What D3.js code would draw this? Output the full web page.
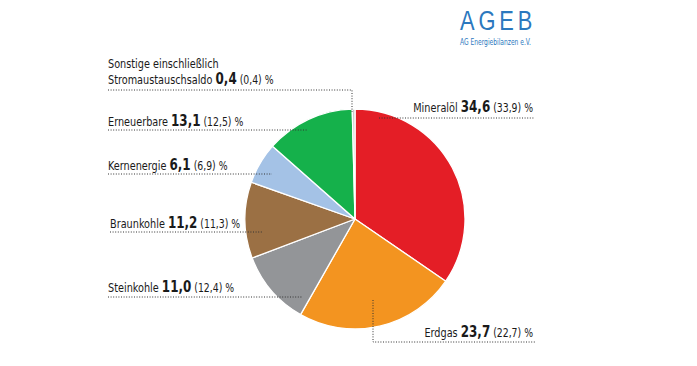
<!DOCTYPE html>
<html><head><meta charset="utf-8">
<script src="https://cdn.jsdelivr.net/npm/d3@7"></script>
<style>
body{margin:0;background:#fff;}
svg{display:block;}
text{font-family:"DejaVu Sans Condensed","DejaVu Sans",sans-serif;fill:#1a1a1a;}
</style></head><body>
<svg id="chart" width="697" height="366"></svg>
<script>
// Data
const categories = ["Mineralöl","Erdgas","Steinkohle","Braunkohle","Kernenergie","Erneuerbare","Sonstige"];
const values     = [34.6, 23.7, 11.0, 11.2, 6.1, 13.1, 0.4];
const prevValues = [33.9, 22.7, 12.4, 11.3, 6.9, 12.5, 0.4];
const colors     = ["#e41e26","#f39420","#939598","#9b7044","#a4c2e6","#15b14b","#c9c9c9"];

// Label layout (positions only)
const labelLayout = {
  "Mineralöl":   {anchor:"end",   x:533, y:112, line:[[379,118],[535,118]]},
  "Erdgas":      {anchor:"end",   x:533, y:337, line:[[373,300],[373,342],[535,342]]},
  "Steinkohle":  {anchor:"start", x:108, y:292, line:[[108,297],[302,297]]},
  "Braunkohle":  {anchor:"start", x:110, y:228, line:[[110,232],[262,232]]},
  "Kernenergie": {anchor:"start", x:108, y:170, line:[[108,174],[272,174]]},
  "Erneuerbare": {anchor:"start", x:108, y:126, line:[[108,130],[308,130]]},
  "Sonstige":    {anchor:"start", x:108, y:84,  line:[[108,90],[352,90],[352,112]], extra:"Sonstige einschließlich", name:"Stromaustauschsaldo"}
};

const svg = d3.select("#chart");
const cx = 355, cy = 219, r = 110;
const sx = 0.83;
const fmt = v => v.toFixed(1).replace(".", ",");

const pie = d3.pie().sort(null).value(d => d.v).startAngle(0).endAngle(2*Math.PI);
const arc = d3.arc().innerRadius(0).outerRadius(r);
const data = categories.map((c,i)=>({c, v:values[i], p:prevValues[i], col:colors[i]}));

const g = svg.append("g").attr("transform", `translate(${cx},${cy})`);
g.selectAll("path").data(pie(data)).join("path")
  .attr("d", arc)
  .attr("fill", d => d.data.col)
  .attr("stroke", "#fff")
  .attr("stroke-width", 1.3)
  .attr("stroke-linejoin","round");

// Leader lines
const line = d3.line();
data.forEach(d => {
  const L = labelLayout[d.c];
  svg.append("path").attr("d", line(L.line))
    .attr("fill","none").attr("stroke","#333").attr("stroke-width",1)
    .attr("stroke-dasharray","1,1.6");
});

// Labels
data.forEach(d => {
  const L = labelLayout[d.c];
  if (L.extra) {
    svg.append("g").attr("transform", `translate(${L.x},${L.y - 16}) scale(${sx},1)`)
      .append("text").attr("text-anchor", L.anchor).attr("font-size", 13).text(L.extra);
  }
  const t = svg.append("g").attr("transform", `translate(${L.x},${L.y}) scale(${sx},1)`)
    .append("text").attr("text-anchor", L.anchor).attr("font-size", 13);
  t.append("tspan").text((L.name || d.c) + "  ");
  t.append("tspan").attr("font-weight","bold").attr("font-size",16).text(fmt(d.v));
  t.append("tspan").attr("font-size",12.5).text(" (" + fmt(d.p) + ") %");
});

// Logo
svg.append("g").attr("transform","translate(460,30) scale(0.78,1)")
  .append("text").attr("font-size", 28).attr("letter-spacing", 5).style("fill","#2b78be")
  .style("font-family","'Liberation Sans','DejaVu Sans',sans-serif").text("AGEB");
svg.append("text").attr("x", 460).attr("y", 45).attr("font-size", 9)
  .attr("textLength", 71).attr("lengthAdjust","spacingAndGlyphs")
  .style("fill","#2b78be").text("AG Energiebilanzen e.V.");
</script>
</body></html>
